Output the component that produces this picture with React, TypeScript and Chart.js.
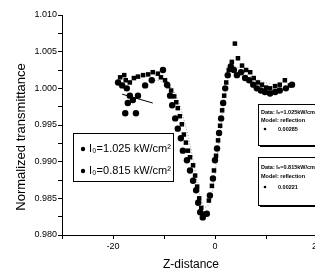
import React, { useEffect, useRef } from "react";
import { Chart, registerables } from "chart.js";
Chart.register(...registerables);

// Series I0 = 1.025 kW/cm2
const zA = [-18.6, -17.8, -17.5, -16.7, -15.9, -15.1, -14.1, -13.1, -12.2, -11.2, -10.6, -9.8, -9.2, -8.6, -8.0, -7.6, -7.3, -6.9, -6.5, -6.1, -5.7, -5.3, -4.9, -4.3, -3.9, -3.5, -3.1, -2.7, -2.4, -1.2, -0.6, -0.2, 0.2, 0.6, 1.0, 1.4, 1.8, 2.2, 2.7, 3.3, 3.9, 4.5, 5.3, 6.1, 6.9, 7.6, 8.4, 9.2, 10.0, 10.8, 11.8, 12.7, 13.7, 14.7];
const tA = [1.0015, 1.0018, 1.0011, 1.0008, 1.0014, 1.0016, 1.0018, 1.0019, 1.0022, 1.002, 1.0015, 1.0011, 1.0003, 0.9997, 0.9989, 0.9981, 0.9973, 0.9962, 0.9951, 0.9937, 0.9926, 0.9915, 0.9906, 0.9895, 0.9881, 0.9866, 0.985, 0.9837, 0.9829, 0.9847, 0.9867, 0.9888, 0.9908, 0.9929, 0.9949, 0.997, 0.999, 1.0008, 1.0025, 1.0036, 1.0061, 1.0041, 1.0031, 1.0025, 1.0022, 1.0014, 1.0008, 1.0005, 1.0001, 1.0, 1.0003, 1.0005, 1.0011, 1.0004];
// Series I0 = 0.815 kW/cm2
const zB = [-19.0, -18.2, -17.3, -16.7, -16.1, -17.1, -17.6, -15.5, -15.1, -13.7, -12.4, -10.2, -9.4, -8.8, -8.4, -7.8, -7.3, -6.7, -6.3, -5.5, -4.9, -4.3, -3.7, -3.3, -2.9, -2.4, -1.6, -1.0, -0.4, 0.0, 0.4, 0.8, 1.2, 1.6, 2.0, 2.5, 3.1, 3.7, 4.3, 5.1, 5.9, 6.7, 7.5, 8.2, 9.0, 9.8, 10.8, 11.8, 12.7, 13.9, 15.1];
const tB = [1.0008, 1.0004, 1.0, 0.999, 0.9984, 0.998, 0.9966, 0.9966, 0.999, 1.0004, 1.0011, 1.0025, 1.0005, 0.999, 0.9977, 0.9959, 0.9945, 0.9932, 0.9915, 0.9902, 0.9888, 0.9874, 0.9861, 0.9844, 0.9831, 0.9824, 0.9829, 0.9854, 0.9877, 0.9902, 0.9918, 0.9939, 0.9959, 0.998, 1.0, 1.0018, 1.003, 1.0025, 1.0018, 1.0022, 1.0014, 1.0011, 1.0005, 1.0, 0.9997, 0.9995, 0.9993, 0.9995, 0.9997, 1.0, 1.0005];
// Model fit curves
const zFit = [-13, -10, -8, -6, -4.5, -3, -2, -1, 0, 1, 2, 3, 4, 6, 9, 14];
const tFit = [1.0012, 1.0008, 0.9995, 0.9955, 0.991, 0.9855, 0.9838, 0.9845, 0.9885, 0.994, 0.9995, 1.0025, 1.003, 1.002, 1.001, 1.0];
const zLine = [-18.2, -12.2];
const tLine = [0.9992, 0.998];

const xTickLabels = [-20, 0, 20];
const yMin = 0.98;
const yMax = 1.01;
const legendLabels = ["I\u2080=1.025 kW/cm\u00B2", "I\u2080=0.815 kW/cm\u00B2"];
const infoBox1 = ["Data: I\u2080=1.025kW/cm\u00B2", "Model: reflection", "0.00285"];
const infoBox2 = ["Data: I\u2080=0.815kW/cm\u00B2", "Model: reflection", "0.00221"];

const pts = (xs: number[], ys: number[]) => xs.map((x, i) => ({ x, y: ys[i] }));

const FONT = "'Liberation Sans', Arial, sans-serif";

const overlay = {
  id: "overlay",
  afterDraw(chart: any) {
    const ctx = chart.ctx as CanvasRenderingContext2D;
    ctx.save();
    ctx.fillStyle = "#000";
    ctx.font = `12px ${FONT}`;
    ctx.textAlign = "center";
    ctx.textBaseline = "middle";
    ctx.fillText("Z-distance", 191, 265);
    ctx.save();
    ctx.translate(21, 137);
    ctx.rotate(-Math.PI / 2);
    ctx.font = `13px ${FONT}`;
    ctx.fillText("Normalized transmittance", 0, 0);
    ctx.restore();

    const box = (x: number, y: number, w: number, h: number, sh: number) => {
      ctx.fillStyle = "#000";
      ctx.fillRect(x + sh, y + sh, w, h);
      ctx.fillStyle = "#fff";
      ctx.fillRect(x, y, w, h);
      ctx.strokeStyle = "#000";
      ctx.lineWidth = 1;
      ctx.strokeRect(x + 0.5, y + 0.5, w, h);
    };
    box(73, 133, 100, 48, 1);
    ctx.textAlign = "left";
    ctx.font = `11px ${FONT}`;
    legendLabels.forEach((t, i) => {
      const yy = 149 + i * 22;
      ctx.fillStyle = "#000";
      ctx.beginPath();
      ctx.arc(83, yy, 2.2, 0, Math.PI * 2);
      ctx.fill();
      ctx.fillText(t, 89, yy);
    });

    const info = (y: number, h: number, lines: string[], ys: number[]) => {
      box(258, y, 70, h, 2);
      ctx.fillStyle = "#000";
      ctx.font = `bold 5.5px ${FONT}`;
      ctx.textAlign = "left";
      ctx.fillText(lines[0], 261, ys[0]);
      ctx.fillText(lines[1], 261, ys[1]);
      ctx.beginPath();
      ctx.arc(265, ys[2], 1.3, 0, Math.PI * 2);
      ctx.fill();
      ctx.fillText(lines[2], 278, ys[2]);
    };
    info(104, 41, infoBox1, [112, 120, 129]);
    info(157, 48, infoBox2, [167, 176, 187]);
    ctx.restore();
  },
};

export default function App() {
  const ref = useRef<HTMLCanvasElement | null>(null);
  useEffect(() => {
    if (!ref.current) return;
    const chart = new Chart(ref.current, {
      type: "scatter",
      data: {
        datasets: [
          {
            label: legendLabels[0],
            data: pts(zA, tA),
            backgroundColor: "#000",
            borderColor: "#000",
            pointStyle: "rect",
            pointRadius: 3.2,
            borderWidth: 0,
          },
          {
            label: legendLabels[1],
            data: pts(zB, tB),
            backgroundColor: "#000",
            borderColor: "#000",
            pointStyle: "circle",
            pointRadius: 3.2,
            borderWidth: 0,
          },
          {
            label: "fit",
            data: pts(zFit, tFit),
            showLine: true,
            borderColor: "#999",
            borderWidth: 1,
            borderDash: [1, 2],
            pointRadius: 0,
            tension: 0.4,
          } as any,
          {
            label: "fit2",
            data: pts(zLine, tLine),
            showLine: true,
            borderColor: "#000",
            borderWidth: 1,
            pointRadius: 0,
          } as any,
        ],
      },
      options: {
        animation: false,
        responsive: false,
        layout: { padding: { top: 15, right: 23, left: 0, bottom: 0 } },
        plugins: { legend: { display: false }, tooltip: { enabled: false } },
        scales: {
          x: {
            type: "linear",
            min: -30,
            max: 20,
            afterFit: (s: any) => {
              s.height = 40;
            },
            ticks: {
              stepSize: 10,
              autoSkip: false,
              maxRotation: 0,
              padding: 2,
              color: "#000",
              font: { family: FONT, size: 9 },
              callback: (v: any) => (xTickLabels.includes(Number(v)) ? String(v) : ""),
            },
            grid: { drawOnChartArea: false, drawTicks: true, tickLength: 4, color: "#000" },
            border: { display: true, color: "#000", width: 1 },
          },
          y: {
            type: "linear",
            min: yMin,
            max: yMax,
            afterFit: (s: any) => {
              s.width = 62;
            },
            afterBuildTicks: (s: any) => {
              const t = [];
              for (let i = 0; i <= 12; i++) t.push({ value: yMin + i * 0.0025 });
              s.ticks = t;
            },
            ticks: {
              autoSkip: false,
              padding: 1,
              color: "#000",
              font: { family: FONT, size: 9 },
              callback: (v: any) => {
                const k = Math.round(Number(v) * 10000);
                return k % 50 === 0 ? (k / 10000).toFixed(3) : "";
              },
            },
            grid: { drawOnChartArea: false, drawTicks: true, tickLength: 4, color: "#000" },
            border: { display: true, color: "#000", width: 1 },
          },
        },
      },
      plugins: [overlay],
    } as any);
    return () => chart.destroy();
  }, []);
  return (
    <div style={{ position: "fixed", left: 0, top: 0, width: 315, height: 275, overflow: "hidden", background: "#fff" }}>
      <canvas ref={ref} width={340} height={275} style={{ display: "block", width: 340, height: 275 }} />
    </div>
  );
}
